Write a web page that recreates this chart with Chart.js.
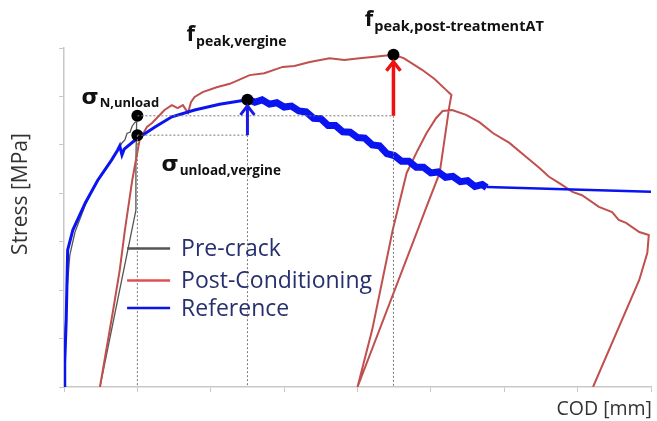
<!DOCTYPE html>
<html lang="en">
<head>
  <meta charset="UTF-8">
  <title>Stress - COD</title>
  <script src="https://cdn.jsdelivr.net/npm/chart.js"></script>
  <style>
    html, body { margin: 0; padding: 0; background: #fff; }
    .chart-container { width: 657px; height: 421px; }
  </style>
</head>
<body>
  <div class="chart-container"><canvas id="codChart"></canvas></div>

  <script>
    // COD [mm] / Stress [MPa] (tick units, no labels in the original)
    const preCrackX = [0, 0.01, 0.04, 0.08, 0.15, 0.29, 0.42, 0.56, 0.69, 0.79, 0.83, 0.86, 0.90, 0.93, 0.97, 0.99, 0.98, 0.98, 0.87, 0.49];
    const preCrackY = [0, 0.97, 2.00, 2.73, 3.20, 3.76, 4.17, 4.48, 4.79, 5.04, 5.10, 5.24, 5.26, 5.39, 5.47, 5.47, 4.69, 3.65, 2.83, 0];

    const postCondX = [0.49, 0.67, 0.76, 0.83, 0.93, 1.03, 1.13, 1.20, 1.37, 1.47, 1.55, 1.62, 1.69, 1.73, 1.78, 1.89, 2.08, 2.26, 2.53, 2.73, 2.98, 3.14, 3.35, 3.62, 3.82, 4.03, 4.30, 4.49, 4.63, 4.88, 5.05, 5.21, 5.28,
                       5.25, 5.12, 4.94, 4.82, 4.00,
                       4.20, 4.34, 4.48, 4.67, 4.82, 4.94, 5.07, 5.16, 5.29, 5.48, 5.66, 5.85, 6.07, 6.30, 6.48, 6.61, 6.75, 6.93, 7.06, 7.29, 7.47, 7.56, 7.66, 7.84, 7.97,
                       7.95, 7.84, 7.21];
    const postCondY = [0, 1.59, 2.42, 3.24, 4.27, 5.10, 5.37, 5.45, 5.72, 5.82, 5.76, 5.82, 5.66, 5.88, 5.99, 6.09, 6.19, 6.26, 6.44, 6.48, 6.61, 6.63, 6.71, 6.79, 6.75, 6.79, 6.83, 6.86, 6.79, 6.55, 6.36, 6.13, 6.03,
                       5.78, 4.42, 3.72, 3.24, 0,
                       1.18, 2.21, 3.24, 4.42, 4.89, 5.24, 5.55, 5.70, 5.72, 5.62, 5.47, 5.24, 5.04, 4.75, 4.52, 4.34, 4.21, 4.03, 3.96, 3.72, 3.61, 3.45, 3.39, 3.20, 3.14,
                       2.77, 2.21, 0];

    const referenceX = [0, 0.01, 0.03, 0.05, 0.10, 0.12, 0.29, 0.46, 0.65, 0.73, 0.76, 0.79, 0.82, 0.97, 1.24, 1.47, 1.78, 2.12, 2.50];
    const referenceY = [0, 0.50, 1.38, 2.83, 3.12, 3.24, 3.80, 4.27, 4.69, 4.89, 4.98, 4.79, 4.91, 5.10, 5.37, 5.58, 5.72, 5.84, 5.93];
    // noisy softening branch of the reference
    const refNoisyX = [2.50, 2.60, 2.70, 2.80, 2.90, 3.00, 3.10, 3.20, 3.30, 3.40, 3.50, 3.60, 3.70, 3.80, 3.90, 4.00, 4.10, 4.20, 4.30, 4.40, 4.50, 4.60, 4.70, 4.80, 4.90, 5.00, 5.10, 5.20, 5.30, 5.40, 5.50, 5.60, 5.70, 5.76];
    const refNoisyY = [5.95, 5.88, 5.93, 5.84, 5.87, 5.78, 5.80, 5.70, 5.68, 5.55, 5.54, 5.40, 5.40, 5.27, 5.26, 5.15, 5.14, 5.00, 4.98, 4.82, 4.78, 4.66, 4.66, 4.54, 4.54, 4.42, 4.44, 4.33, 4.35, 4.24, 4.26, 4.14, 4.18, 4.12];
    const refTailX = [5.76, 8.0];
    const refTailY = [4.13, 4.03];

    // marked points: sigma N,unload / sigma unload,vergine / f peak,vergine / f peak,post-treatment
    const markX = [1.0, 1.0, 2.50, 4.49];
    const markY = [5.60, 5.20, 5.93, 6.86];

    const seriesNames = ['Pre-crack', 'Post-Conditioning', 'Reference'];
    const seriesColors = ['#555555', '#c0504d', '#0a14f0'];

    const zip = (xs, ys) => xs.map((x, i) => ({ x: x, y: ys[i] }));

    const overlay = {
      id: 'overlay',
      afterDatasetsDraw(chart) {
        const ctx = chart.ctx;
        const xs = chart.scales.x, ys = chart.scales.y;
        const P = (x, y) => [xs.getPixelForValue(x), ys.getPixelForValue(y)];
        ctx.save();

        // dotted guide lines
        ctx.strokeStyle = '#777';
        ctx.lineWidth = 1;
        ctx.setLineDash([2, 2]);
        const seg = (a, b) => { ctx.beginPath(); ctx.moveTo(a[0], a[1]); ctx.lineTo(b[0], b[1]); ctx.stroke(); };
        seg(P(markX[0], markY[0]), P(markX[3], markY[0]));
        seg(P(markX[1], markY[1]), P(markX[2], markY[1]));
        seg(P(markX[1], markY[1]), P(markX[1], 0));
        seg(P(markX[2], markY[1]), P(markX[2], 0));
        seg(P(markX[3], markY[0]), P(markX[3], 0));
        ctx.setLineDash([]);

        // arrows
        const arrow = (from, to, color, w) => {
          ctx.strokeStyle = color;
          ctx.lineWidth = w;
          ctx.lineCap = 'butt';
          ctx.beginPath(); ctx.moveTo(from[0], from[1]); ctx.lineTo(to[0], to[1]); ctx.stroke();
          ctx.beginPath();
          ctx.moveTo(to[0] - 7, to[1] + 9);
          ctx.lineTo(to[0], to[1]);
          ctx.lineTo(to[0] + 7, to[1] + 9);
          ctx.stroke();
        };
        const a1 = P(markX[2], markY[1]);
        arrow(a1, [a1[0], ys.getPixelForValue(markY[2]) + 6], '#1a1ae6', 3);
        const a2 = P(markX[3], markY[0]);
        arrow(a2, [a2[0], ys.getPixelForValue(markY[3]) + 7], '#f01010', 3.5);

        // subscript labels
        const sub = (main, small, pos, mainFont, subSize, dy) => {
          ctx.fillStyle = '#111';
          ctx.textBaseline = 'alphabetic';
          ctx.textAlign = 'left';
          ctx.font = mainFont;
          ctx.fillText(main, pos[0], pos[1]);
          const w = ctx.measureText(main).width;
          ctx.font = 'bold ' + subSize + 'px "Open Sans"';
          ctx.fillText(small, pos[0] + w + 1, pos[1] + dy);
        };
        sub('f', 'peak,vergine', P(1.67, 7.14), 'bold 22px "Open Sans"', 14, 5);
        sub('f', 'peak,post-treatmentAT', P(4.10, 7.45), 'bold 22px "Open Sans"', 14.5, 5);
        sub('\u03c3', 'N,unload', P(0.24, 5.84), 'bold 22px "DejaVu Sans"', 13, 3);
        sub('\u03c3', 'unload,vergine', P(1.33, 4.45), 'bold 22px "DejaVu Sans"', 13.5, 4);

        // legend
        ctx.font = '23px "Open Sans"';
        ctx.textBaseline = 'middle';
        const lx = xs.getPixelForValue(0.86);
        const legY = [2.86, 2.20, 1.63];
        seriesNames.forEach((name, i) => {
          const y = ys.getPixelForValue(legY[i]);
          ctx.strokeStyle = i === 1 ? '#e05050' : seriesColors[i];
          ctx.lineWidth = 2.5;
          ctx.beginPath(); ctx.moveTo(lx, y); ctx.lineTo(lx + 43, y); ctx.stroke();
          ctx.fillStyle = '#27306e';
          ctx.fillText(name, lx + 54, y + 1);
        });

        // axis titles
        ctx.fillStyle = '#333';
        ctx.font = '19.5px "Open Sans"';
        ctx.textAlign = 'right';
        ctx.textBaseline = 'alphabetic';
        ctx.fillText('COD [mm]', xs.right + 1, chart.height - 6);
        ctx.translate(27, 194);
        ctx.rotate(-Math.PI / 2);
        ctx.textAlign = 'center';
        ctx.font = '21px "Open Sans"';
        ctx.fillText('Stress [MPa]', 0, 0);
        ctx.restore();
      }
    };

    const lineDs = (label, data, color, width, order) => ({
      label: label, data: data, borderColor: color, borderWidth: width,
      showLine: true, pointRadius: 0, tension: 0, order: order
    });

    new Chart(document.getElementById('codChart'), {
      type: 'scatter',
      data: {
        datasets: [
          { label: 'marks', data: zip(markX, markY), pointRadius: 6, pointBackgroundColor: '#000', pointBorderWidth: 0, showLine: false, order: 0 },
          lineDs(seriesNames[2], zip(referenceX, referenceY), seriesColors[2], 3, 1),
          lineDs(seriesNames[2], zip(refNoisyX, refNoisyY), seriesColors[2], 7, 1),
          lineDs(seriesNames[2], zip(refTailX, refTailY), seriesColors[2], 2.5, 1),
          lineDs(seriesNames[1], zip(postCondX, postCondY), seriesColors[1], 2, 2),
          lineDs(seriesNames[0], zip(preCrackX, preCrackY), seriesColors[0], 1.3, 3)
        ]
      },
      options: {
        responsive: true,
        maintainAspectRatio: false,
        animation: false,
        layout: { padding: { top: 48, right: 5, left: 0, bottom: 0 } },
        plugins: { legend: { display: false }, tooltip: { enabled: false } },
        scales: {
          x: {
            min: 0, max: 8,
            ticks: { stepSize: 1, display: false },
            grid: { drawOnChartArea: false, drawTicks: true, tickLength: 5, color: '#c8c8c8' },
            border: { color: '#c8c8c8', width: 1.5 },
            afterFit: s => { s.height = 34; }
          },
          y: {
            min: 0, max: 7,
            ticks: { stepSize: 1, display: false },
            grid: { drawOnChartArea: false, drawTicks: true, tickLength: 5, color: '#c8c8c8' },
            border: { color: '#c8c8c8', width: 1.5 },
            afterFit: s => { s.width = 64; }
          }
        }
      },
      plugins: [overlay]
    });
  </script>
</body>
</html>
